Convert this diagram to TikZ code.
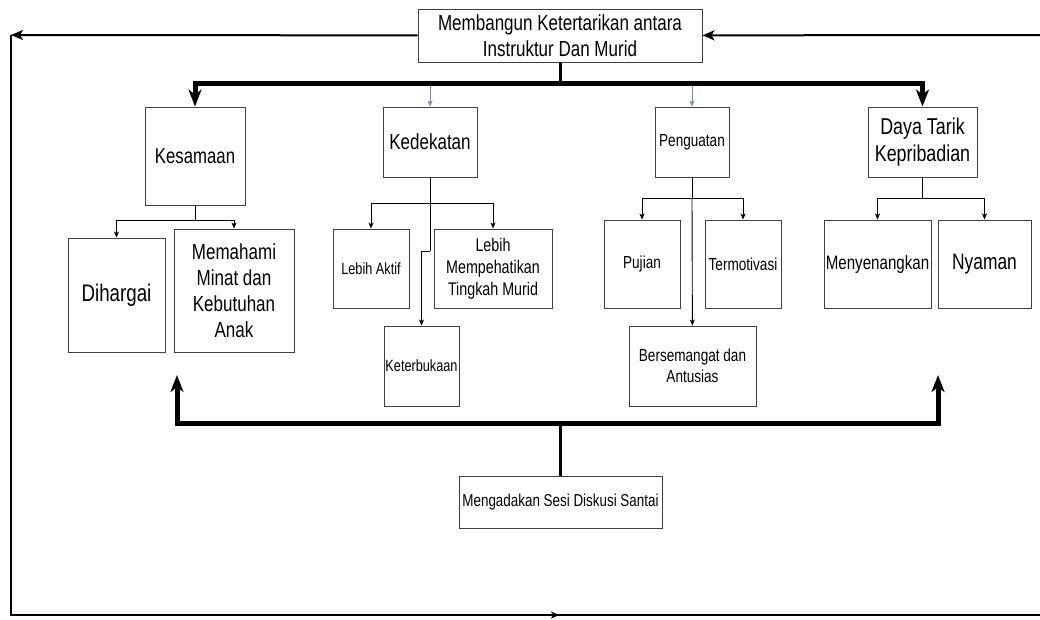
\documentclass[tikz,border=0pt]{standalone}
\usepackage{fontspec}
\newfontfamily\condsans[FakeStretch=0.78]{Liberation Sans}
\usetikzlibrary{arrows.meta}
\definecolor{steel}{HTML}{6C8EBF}
\newcommand{\fsz}[1]{\fontsize{#1}{\dimexpr#1pt*6/5\relax}\selectfont}

\tikzset{
  box/.style={draw=black!75, line width=0.9pt, fill=white, align=center, inner sep=1pt, font={\condsans\fsz{#1}}},
  box/.default=16,
  sz/.style 2 args={minimum width=#1pt, minimum height=#2pt},
  plain/.style={line width=0.9pt},
  link/.style={line width=0.9pt, -{Stealth[length=6pt,width=5pt,inset=1.5pt]}},
  soft/.style={draw=steel, line width=0.9pt, -{Stealth[length=6pt,width=5pt,inset=1.5pt]}},
  trunk/.style={line width=3pt},
  heavy/.style={line width=5pt, {Stealth[length=17pt,width=13pt,inset=5pt]}-{Stealth[length=17pt,width=13pt,inset=5pt]}},
  outer/.style={line width=2pt}
}

\begin{document}
\begin{tikzpicture}[x=1pt, y=-1pt]
      \useasboundingbox (0,0) rectangle (1040,619);

      \node[box=21.8, sz={284}{53}] (top) at (560,35.5) {Membangun Ketertarikan antara\\Instruktur Dan Murid};

      \node[box=21.5, sz={100}{98}] (kes) at (195,156) {Kesamaan};
      \node[box=21.8, sz={94}{70}] (ked) at (430,142) {Kedekatan};
      \node[box=17.4, sz={74}{70}] (pen) at (692,142) {Penguatan};
      \node[box=22.9, sz={109}{70}] (daya) at (922.5,142) {Daya Tarik\\Kepribadian};

      \node[box=24, sz={97}{114}] (dih) at (116.5,295) {Dihargai};
      \node[box=21.8, sz={120}{123}] (mem) at (234,290.5) {Memahami\\Minat dan\\Kebutuhan\\Anak};
      \node[box=16.3, sz={76}{79}] (aktif) at (371,268.5) {Lebih Aktif};
      \node[box=18.3, sz={118}{79}] (lebih) at (493,268.5) {Lebih\\Mempehatikan\\Tingkah Murid};
      \node[box=16.3, sz={75}{80}] (buka) at (421.5,366) {Keterbukaan};
      \node[box=17.4, sz={76}{88}] (puji) at (642,264) {Pujian};
      \node[box=17.4, sz={76}{88}] (motiv) at (743,264) {Termotivasi};
      \node[box=17.4, sz={127}{80}] (smgt) at (692.5,366) {Bersemangat dan\\Antusias};
      \node[box=19.4, sz={107}{88}] (senang) at (877.5,264) {Menyenangkan};
      \node[box=22.3, sz={93}{88}] (nyaman) at (984.5,264) {Nyaman};

      \node[box=17.2, sz={203}{52}] (diskusi) at (560.5,502) {Mengadakan Sesi Diskusi Santai};

      \coordinate (bar) at (560,83);
      \coordinate (k1) at (195,220);
      \coordinate (d1) at (430,203);
      \coordinate (d2) at (430,251);
      \coordinate (p1) at (692,198);
      \coordinate (y1) at (922.5,198);
      \coordinate (b1) at (560.5,423);
      \coordinate (ua) at (177,375);
      \coordinate (ub) at (938,375);
      \coordinate (c1) at (11,35);
      \coordinate (c2) at (11,615);
      \coordinate (c3) at (559,615);
      \coordinate (c4) at (1041,615);
      \coordinate (c5) at (1041,35);

      \foreach \n in {ked,pen}{
        \draw[soft] (\n.north |- bar) -- (\n.north); }
      \draw[trunk] (top) -- (bar);
      \draw[heavy] (kes) |- (bar) -| (daya);

      \draw[plain] (kes) -- (k1);
      \foreach \n in {dih,mem}{
        \draw[link] (k1) -| (\n); }
      \draw[plain] (ked) -- (d2);
      \foreach \n in {aktif,lebih}{
        \draw[link] (d1) -| (\n); }
      \draw[link] (d2) -| (buka);
      \draw[plain] (pen) -- (p1);
      \foreach \n in {puji,motiv}{
        \draw[link] (p1) -| (\n); }
      \draw[link] (p1) -- (smgt);
      \draw[plain] (daya) -- (y1);
      \foreach \n in {senang,nyaman}{
        \draw[link] (y1) -| (\n); }

      \draw[trunk] (diskusi) -- (b1);
      \draw[heavy] (ua) |- (b1) -| (ub);

      \draw[outer, -{Stealth[length=12pt,width=10pt,inset=3pt]}] (top) -- (c1);
      \draw[outer] (c1) -- (c2) -- (c4);
      \draw[outer, -{Stealth[length=8pt,width=7pt,inset=2pt]}] (c2) -- (c3);
      \draw[outer, -{Stealth[length=12pt,width=10pt,inset=3pt]}] (c5) -- (top);
    \end{tikzpicture}
\end{document}
